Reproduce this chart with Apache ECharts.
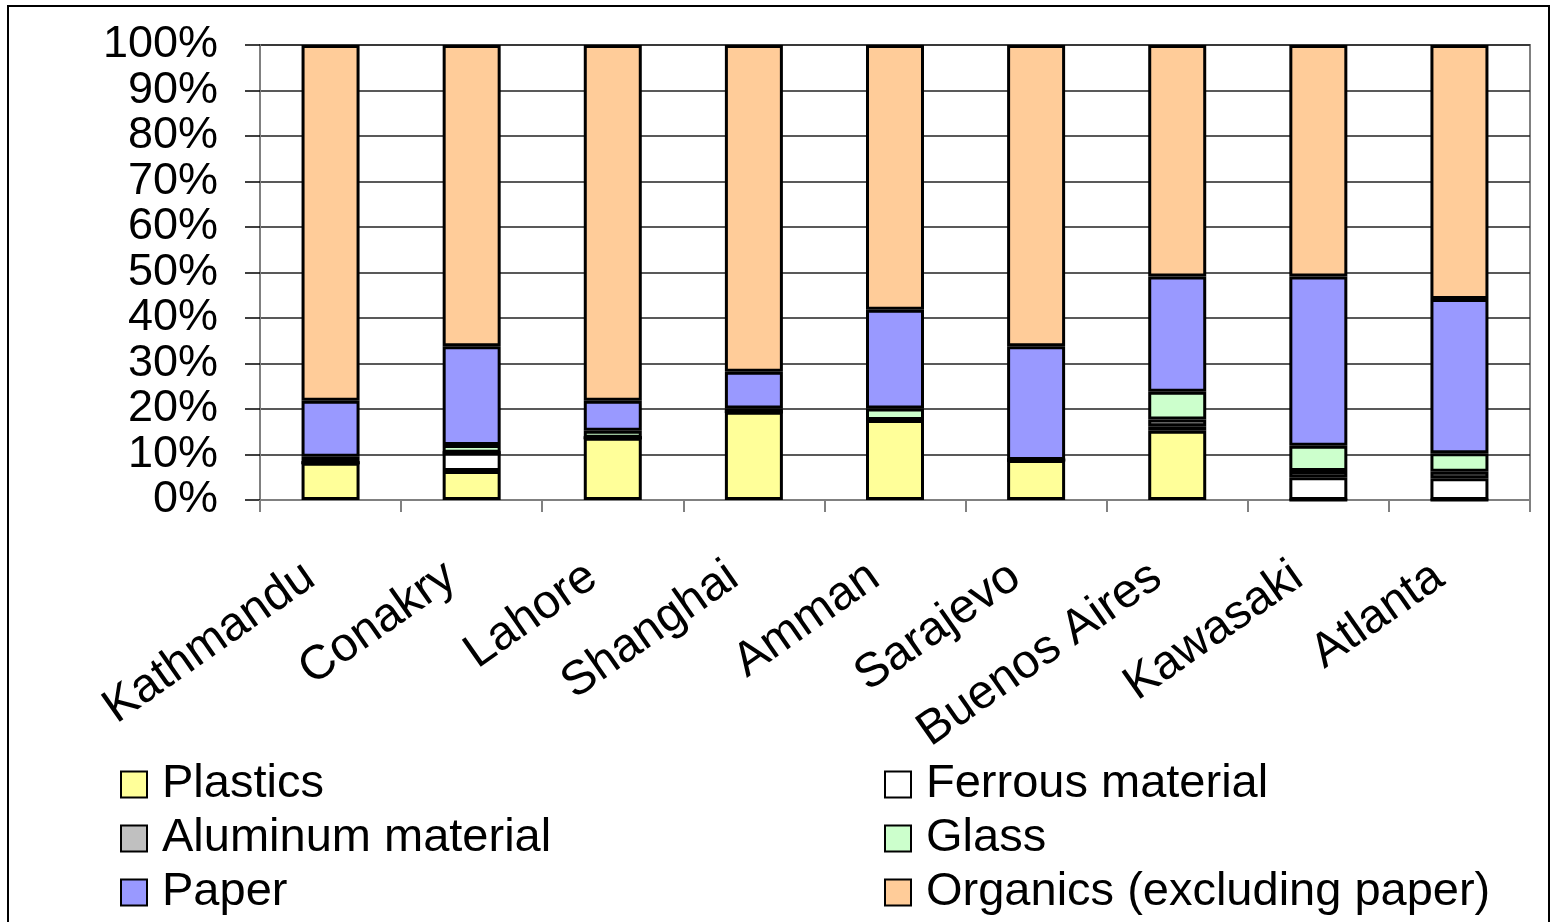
<!DOCTYPE html>
<html>
<head>
<meta charset="utf-8">
<script src="https://cdn.jsdelivr.net/npm/echarts@6/dist/echarts.min.js"></script>
<style>
  html, body { margin: 0; padding: 0; background: #fff; }
  #chart { width: 1556px; height: 922px; }
</style>
</head>
<body>
<div id="chart"></div>
<script>
// Municipal solid waste composition by city (share of total, %)
const cities = ['Kathmandu', 'Conakry', 'Lahore', 'Shanghai', 'Amman', 'Sarajevo', 'Buenos Aires', 'Kawasaki', 'Atlanta'];
const plastics = [8.2, 6.4, 13.7, 19.4, 17.6, 8.8, 15.2, 0, 0];
const ferrous  = [0, 4.0, 0, 0, 0, 0, 1.0, 5.0, 4.8];
const aluminum = [0, 0, 0, 0, 0, 0, 1.5, 1.4, 1.4];
const glass    = [1.3, 1.7, 1.5, 0.7, 2.5, 0, 6.1, 5.5, 4.1];
const paper    = [12.3, 21.7, 6.6, 8.1, 21.7, 25.0, 25.3, 37.2, 33.9];
const organics = [78.2, 66.2, 78.2, 71.8, 58.2, 66.2, 50.9, 50.9, 55.8];
const yTicks = [0, 10, 20, 30, 40, 50, 60, 70, 80, 90, 100];

const FONT = '"Liberation Sans", Arial, sans-serif';

const seriesDefs = [
  { name: 'Plastics', data: plastics, color: '#FFFF99' },
  { name: 'Ferrous material', data: ferrous, color: '#FFFFFF' },
  { name: 'Aluminum material', data: aluminum, color: '#C0C0C0' },
  { name: 'Glass', data: glass, color: '#CCFFCC' },
  { name: 'Paper', data: paper, color: '#9999FF' },
  { name: 'Organics (excluding paper)', data: organics, color: '#FFCC99' }
];

const chart = echarts.init(document.getElementById('chart'), null, { renderer: 'canvas' });

// two legend columns, three rows each
const legendCommon = {
  orient: 'vertical',
  icon: 'rect',
  padding: 0,
  height: 170,
  itemWidth: 26,
  itemHeight: 26,
  itemGap: 7,
  textStyle: { fontFamily: FONT, fontSize: 47, color: '#000', padding: [0, 0, 0, 10] },
  itemStyle: { borderColor: '#000', borderWidth: 2 },
  selectedMode: false
};

chart.setOption({
  animation: false,
  backgroundColor: '#fff',
  graphic: [{
    type: 'rect',
    shape: { x: 8, y: 6, width: 1541, height: 1000 },
    style: { fill: 'none', stroke: '#000', lineWidth: 2 },
    silent: true,
    z: -10
  }],
  grid: {
    left: 260, right: 26, top: 45, bottom: 422,
    show: true, borderColor: '#808080', borderWidth: 2
  },
  legend: [
    Object.assign({ left: 120, top: 761, data: ['Plastics', 'Aluminum material', 'Paper'] }, legendCommon),
    Object.assign({ left: 884, top: 761, data: ['Ferrous material', 'Glass', 'Organics (excluding paper)'] }, legendCommon)
  ],
  xAxis: {
    type: 'category',
    data: cities,
    axisLine: { lineStyle: { color: '#808080', width: 2 } },
    axisTick: { show: true, length: 12, lineStyle: { color: '#808080', width: 2 } },
    axisLabel: {
      rotate: 35,
      margin: 58,
      padding: [0, 25, 0, 0],
      fontFamily: FONT,
      fontSize: 48,
      color: '#000',
      interval: 0
    }
  },
  yAxis: {
    type: 'value',
    min: yTicks[0],
    max: yTicks[yTicks.length - 1],
    interval: 10,
    axisLine: { show: true, lineStyle: { color: '#808080', width: 2 } },
    axisTick: { show: true, length: 15, lineStyle: { color: '#000', width: 1.5 } },
    splitLine: { lineStyle: { color: '#222', width: 1.5 } },
    axisLabel: {
      formatter: '{value}%',
      margin: 42,
      showMinLabel: true,
      showMaxLabel: true,
      fontFamily: FONT,
      fontSize: 45,
      color: '#000'
    }
  },
  series: seriesDefs.map(s => ({
    name: s.name,
    type: 'bar',
    stack: 'total',
    barWidth: 58,
    data: s.data,
    itemStyle: { color: s.color, borderColor: '#000', borderWidth: 3 }
  }))
});
</script>
</body>
</html>
